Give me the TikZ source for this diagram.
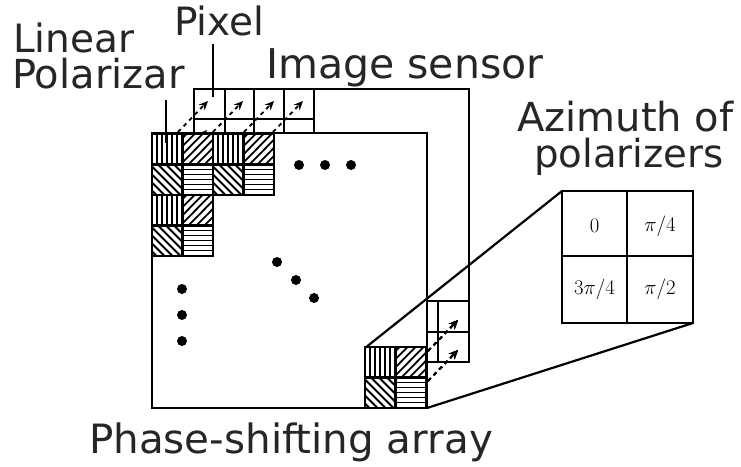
\documentclass[tikz,border=0pt]{standalone}
\usepackage{fontspec}
\usetikzlibrary{arrows.meta}
\newfontfamily\labelfont{DejaVu Sans}
\newcommand{\labelsize}[1]{\fontsize{#1}{38}\selectfont\labelfont}
\tikzset{
	label text/.style={text=black!85, inner sep=0pt, anchor=base west},
	box line/.style={line width=2.6pt},
	thin line/.style={line width=1.8pt},
	hatch line/.style={line width=1.8pt},
	pol arrow/.style={-{Stealth[length=9pt,width=8pt]}, line width=1.8pt, dash pattern=on 4pt off 4pt},
	azimuth/.style={font=\fontsize{21}{21}\selectfont, inner sep=0pt},
	array dot/.style={circle, fill=black, inner sep=0pt, minimum size=10pt}
}
\newcommand{\polblock}[1]{%
	\begin{scope}[shift={(#1)}]
		\begin{scope}
			\clip (0,0) rectangle (30.5,30.5);
			\foreach \t in {5,10,...,30} \draw[hatch line] (\t,0)--(\t,30.5);
		\end{scope}
		\begin{scope}
			\clip (30.5,0) rectangle (61,30.5);
			\foreach \t in {4,12,...,68} \draw[hatch line] (30.5+\t-30,30.5)--(30.5+\t,0);
		\end{scope}
		\begin{scope}
			\clip (0,30.5) rectangle (30.5,61);
			\foreach \t in {-26,-18,...,34} \draw[hatch line] (\t,30.5)--(\t+30.5,61);
		\end{scope}
		\begin{scope}
			\clip (30.5,30.5) rectangle (61,61);
			\foreach \t in {5,10,...,30} \draw[hatch line] (30.5,30.5+\t)--(61,30.5+\t);
		\end{scope}
		\draw[box line] (0,0) rectangle (61,61) (30.5,0)--(30.5,61) (0,30.5)--(61,30.5);
	\end{scope}
}
\begin{document}
\begin{tikzpicture}[x=1pt, y=-1pt, line join=miter]
	\useasboundingbox (0,0) rectangle (741,466);
	\path (194,89) coordinate (S1)
	(469,362) coordinate (S2)
	(152,133) coordinate (A1)
	(427,408) coordinate (A2)
	(365,348) coordinate (C1)
	(562,191) coordinate (I1)
	(693,323) coordinate (I2)
	(213,97) coordinate (P);
	\draw[box line] (S1) rectangle (S2);
	\foreach \t in {225,254,284,314}
		\draw[box line] (\t,89)--(\t,134);
	\draw[thin line] (194,119)--(314,119);
	\draw[thin line] (427,301)--(469,301) (427,332)--(469,332) (438,301)--(438,362);
	\draw[pol arrow] (178,161)--(207,130);
	\foreach \t in {178,213,244,273}
		\draw[pol arrow] (\t,132)--(\t+30,101);
	\draw[fill=white, box line] (A1) rectangle (A2);
	\foreach \x/\y in {152/134,213/134,152/195,365/347}
		\polblock{\x,\y}
	\foreach \t in {320,350}
		\draw[pol arrow] (428,\t+31)--(458,\t);
	\foreach \x/\y [count=\i] in {299/165,325/165,351/165,277/262,296/280,314/298,182/289,182/315,182/341}
		\node[array dot] (d\i) at (\x,\y) {};
	\draw[line width=2.2pt] (C1)--(I1) (A2)--(I2);
	\draw[box line] (I1) rectangle (I2);
	\draw[line width=1.2pt] (627,191)--(627,323) (562,256)--(693,256);
	\node[azimuth] (az0) at (594.5,226) {$0$};
	\node[azimuth] (az1) at (660,226) {$\pi/4$};
	\node[azimuth] (az2) at (594.5,289) {$3\pi/4$};
	\node[azimuth] (az3) at (660,289) {$\pi/2$};
	\node[label text, font=\labelsize{39}] (pixel) at (174,35) {Pixel};
	\node[label text, font=\labelsize{39}] (linear) at (13,52) {Linear};
	\node[label text, font=\labelsize{40}] (pol) at (12,88) {Polarizar};
	\node[label text, font=\labelsize{41}] (sensor) at (266,78) {Image sensor};
	\node[label text, font=\labelsize{40}] (azimuthof) at (517,131) {Azimuth of};
	\node[label text, font=\labelsize{38.7}] (polarizers) at (534,167) {polarizers};
	\node[label text, font=\labelsize{40.4}] (array) at (89,453) {Phase-shifting array};
	\draw[thin line] (213,44)--(P);
	\draw[thin line] (166,100)--(166,143);
\end{tikzpicture}
\end{document}
